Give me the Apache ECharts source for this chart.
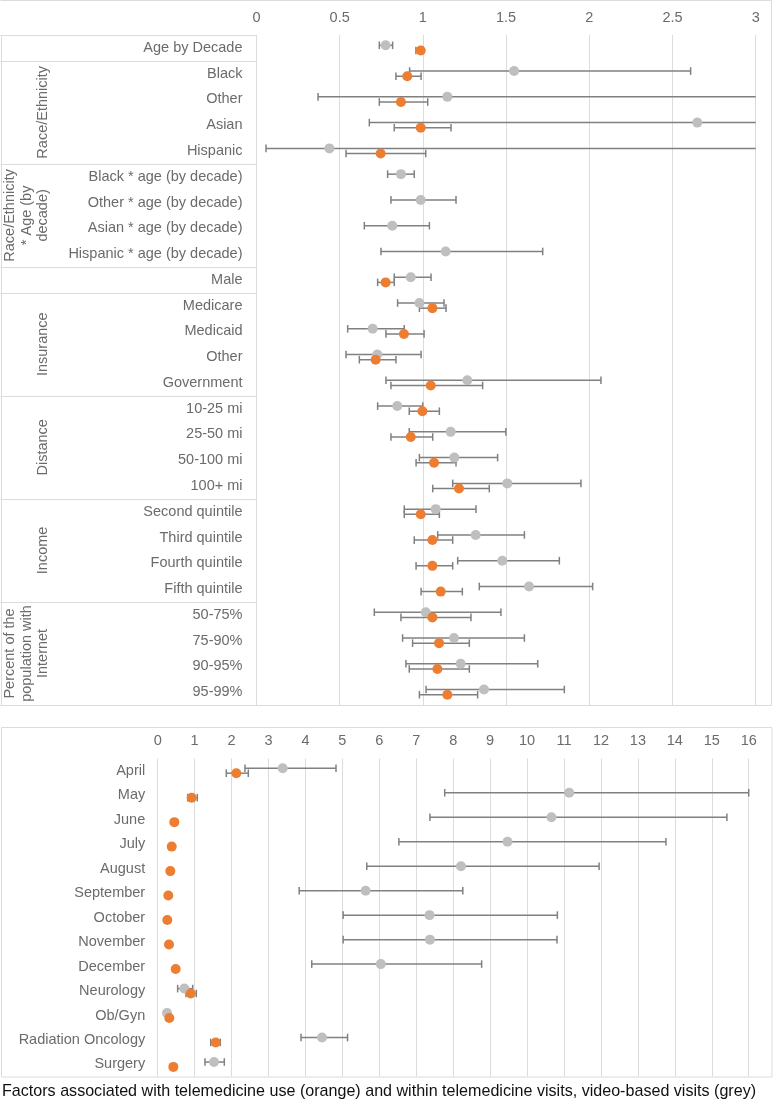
<!DOCTYPE html>
<html><head><meta charset="utf-8">
<script src="https://cdn.jsdelivr.net/npm/echarts@6/dist/echarts.min.js"></script>
<style>html,body{margin:0;padding:0;background:#fff}#c{width:773px;height:1103px}</style>
</head><body><div id="c"></div>
<script>
// ---------- TOP PANEL DATA ----------
const topCategories = ['Age by Decade','Black','Other','Asian','Hispanic',
  'Black * age (by decade)','Other * age (by decade)','Asian * age (by decade)','Hispanic * age (by decade)',
  'Male','Medicare','Medicaid','Other','Government','10-25 mi','25-50 mi','50-100 mi','100+ mi',
  'Second quintile','Third quintile','Fourth quintile','Fifth quintile','50-75%','75-90%','90-95%','95-99%'];
const topGreyOR = [0.776,1.548,1.147,2.649,0.438,0.868,0.987,0.816,1.137,0.927,0.979,0.698,0.726,1.267,0.846,1.167,1.189,1.507,1.077,1.317,1.477,1.638,1.017,1.187,1.227,1.367];
const topGreyLo = [0.738,0.920,0.370,0.678,0.057,0.788,0.808,0.648,0.748,0.828,0.848,0.548,0.538,0.778,0.728,0.918,0.979,1.179,0.888,1.089,1.209,1.339,0.708,0.878,0.898,1.019];
const topGreyHi = [0.818,2.609,3.55,10.3,3.37,0.948,1.199,1.039,1.720,1.049,1.127,0.888,0.989,2.070,0.999,1.499,1.449,1.950,1.319,1.610,1.820,2.020,1.469,1.610,1.690,1.850];
const topOrangeOR = [0.987,0.906,0.868,0.987,0.746,null,null,null,null,0.776,1.057,0.886,0.716,1.047,0.997,0.927,1.067,1.217,0.987,1.057,1.057,1.107,1.057,1.097,1.087,1.147];
const topOrangeLo = [0.958,0.838,0.738,0.828,0.538,null,null,null,null,0.728,0.979,0.778,0.618,0.808,0.918,0.808,0.959,1.059,0.888,0.948,0.959,0.989,0.868,0.938,0.918,0.979];
const topOrangeHi = [1.002,0.989,1.029,1.169,1.017,null,null,null,null,0.828,1.139,1.007,0.838,1.359,1.099,1.059,1.199,1.399,1.099,1.179,1.179,1.237,1.289,1.279,1.279,1.329];
const topGroups = [
  {name:'Race/Ethnicity', from:1, to:4},
  {name:'Race/Ethnicity\n* Age (by\ndecade)', from:5, to:8},
  {name:'Insurance', from:10, to:13},
  {name:'Distance', from:14, to:17},
  {name:'Income', from:18, to:21},
  {name:'Percent of the\npopulation with\nInternet', from:22, to:25}
];
const topBoundaries = [-0.5, 0.5, 4.5, 8.5, 9.5, 13.5, 17.5, 21.5, 25.5];

// ---------- BOTTOM PANEL DATA ----------
const botCategories = ['April','May','June','July','August','September','October','November','December','Neurology','Ob/Gyn','Radiation Oncology','Surgery'];
const botGreyOR = [3.384,11.14,10.66,9.47,8.21,5.63,7.36,7.37,6.04,0.72,0.252,4.448,1.524];
const botGreyLo = [2.363,7.77,7.37,6.53,5.66,3.83,5.02,5.02,4.17,0.54,null,3.88,1.28];
const botGreyHi = [4.827,16.0,15.41,13.76,11.95,8.26,10.82,10.81,8.77,0.947,null,5.14,1.803];
const botOrangeOR = [2.128,0.92,0.45,0.379,0.341,0.287,0.26,0.306,0.487,0.893,0.314,1.57,0.423];
const botOrangeLo = [1.857,0.812,null,null,null,null,null,null,null,0.766,null,1.435,null];
const botOrangeHi = [2.453,1.072,null,null,null,null,null,null,null,1.045,null,1.695,null];

const captionText = 'Factors associated with telemedicine use (orange) and within telemedicine visits, video-based visits (grey)';

// ---------- STYLE ----------
const FONT = 'Liberation Sans, Arial, sans-serif';
const TXT = '#6b6b6b';
const GRID = '#dcdcdc';
const GREY = '#bfbfbf';
const ORANGE = '#ed7d31';
const BAR = '#808080';
const OFF = 0.1;

function errRender(params, api) {
  const lo = api.value(0), hi = api.value(1), y = api.value(2);
  const cs = params.coordSys;
  const p1 = api.coord([lo, y]), p2 = api.coord([hi, y]);
  const left = cs.x, right = cs.x + cs.width;
  const x1 = Math.max(p1[0], left), x2 = Math.min(p2[0], right);
  const yy = p1[1];
  const st = {stroke: BAR, lineWidth: 1.5};
  const ch = [{type:'line', shape:{x1:x1, y1:yy, x2:x2, y2:yy}, style:st}];
  if (p1[0] >= left - 0.5) ch.push({type:'line', shape:{x1:p1[0], y1:yy-3.8, x2:p1[0], y2:yy+3.8}, style:st});
  if (p2[0] <= right + 0.5) ch.push({type:'line', shape:{x1:p2[0], y1:yy-3.8, x2:p2[0], y2:yy+3.8}, style:st});
  return {type:'group', children: ch};
}
function errData(lo, hi, off) {
  const d = [];
  lo.forEach((v, i) => { if (v != null && hi[i] != null) d.push([v, hi[i], i + off]); });
  return d;
}
function ptData(or, off) {
  const d = [];
  or.forEach((v, i) => { if (v != null) d.push([v, i + off]); });
  return d;
}
function errSeries(lo, hi, off, xi, yi) {
  return {type:'custom', coordinateSystem:'cartesian2d', xAxisIndex:xi, yAxisIndex:yi,
    renderItem: errRender, encode:{x:[0,1], y:2}, data: errData(lo, hi, off), silent:true, animation:false};
}
function ptSeries(or, off, color, xi, yi) {
  return {type:'scatter', xAxisIndex:xi, yAxisIndex:yi, data: ptData(or, off), symbol:'circle', symbolSize:10,
    itemStyle:{color: color, opacity:1}, silent:true, animation:false, z:3};
}

const axisLbl = {color: TXT, fontSize: 14.5, fontFamily: FONT};

const option = {
  animation: false,
  backgroundColor: '#fff',
  grid: [
    {left: 256.5, right: 17.3, top: 35, bottom: 398},
    {left: 157.7, right: 24.3, top: 758.5, bottom: 26.3}
  ],
  xAxis: [
    {gridIndex:0, type:'value', position:'top', min:0, max:3, interval:0.5,
      axisLine:{show:false}, axisTick:{show:false}, axisLabel:Object.assign({margin:10}, axisLbl),
      splitLine:{show:true, lineStyle:{color:GRID, width:1}}},
    {gridIndex:1, type:'value', position:'top', min:0, max:16, interval:1,
      axisLine:{show:false}, axisTick:{show:false}, axisLabel:Object.assign({margin:10}, axisLbl),
      splitLine:{show:true, lineStyle:{color:GRID, width:1}}}
  ],
  yAxis: [
    {gridIndex:0, type:'category', data: topCategories, inverse:true, position:'left',
      axisLine:{show:false}, axisTick:{show:false}, splitLine:{show:false},
      axisLabel:Object.assign({margin:14, interval:0}, axisLbl)},
    {gridIndex:0, type:'value', min:-0.5, max:25.5, inverse:true, show:false},
    {gridIndex:1, type:'category', data: botCategories, inverse:true, position:'left',
      axisLine:{show:false}, axisTick:{show:false}, splitLine:{show:false},
      axisLabel:Object.assign({margin:12.5, interval:0}, axisLbl)},
    {gridIndex:1, type:'value', min:-0.5, max:12.5, inverse:true, show:false}
  ],
  series: [
    errSeries(topGreyLo, topGreyHi, -OFF, 0, 1),
    ptSeries(topGreyOR, -OFF, GREY, 0, 1),
    errSeries(topOrangeLo, topOrangeHi, OFF, 0, 1),
    ptSeries(topOrangeOR, OFF, ORANGE, 0, 1),
    errSeries(botGreyLo, botGreyHi, -OFF, 1, 3),
    ptSeries(botGreyOR, -OFF, GREY, 1, 3),
    errSeries(botOrangeLo, botOrangeHi, OFF, 1, 3),
    ptSeries(botOrangeOR, OFF, ORANGE, 1, 3)
  ]
};

const chart = echarts.init(document.getElementById('c'), null, {renderer:'canvas'});
chart.setOption(option);

// ---------- decorations (table lines, group labels, frames, caption) ----------
const yPix = v => chart.convertToPixel({yAxisIndex:1}, v);
const xLeft = chart.convertToPixel({xAxisIndex:0}, 0);
const topY = yPix(-0.5), botY = yPix(25.5);
const lineStyle = {stroke: GRID, lineWidth: 1};
const g = [];
topBoundaries.forEach(b => {
  const y = Math.round(yPix(b)) + 0.5;
  g.push({type:'line', shape:{x1:0.5, y1:y, x2:xLeft, y2:y}, style:lineStyle, z:10});
});
g.push({type:'line', shape:{x1:1.5, y1:topY, x2:1.5, y2:botY}, style:lineStyle, z:10});
g.push({type:'line', shape:{x1:xLeft, y1:topY, x2:xLeft, y2:botY}, style:lineStyle, z:10});
g.push({type:'line', shape:{x1:0.5, y1:Math.round(botY)+0.5, x2:771.5, y2:Math.round(botY)+0.5}, style:lineStyle, z:10});
g.push({type:'line', shape:{x1:0.5, y1:0.5, x2:771.5, y2:0.5}, style:lineStyle, z:10});
g.push({type:'line', shape:{x1:771.5, y1:0.5, x2:771.5, y2:Math.round(botY)+0.5}, style:lineStyle, z:10});
topGroups.forEach(gr => {
  const yc = (yPix(gr.from - 0.5) + yPix(gr.to + 0.5)) / 2;
  const n = gr.name.split('\n').length;
  const lh = 16.5;
  const xc = 43 - (n - 1) * lh / 2;
  g.push({type:'text', x:xc, y:yc, rotation:Math.PI/2, z:10,
    style:{text:gr.name, fill:TXT, font:'14.5px ' + FONT, align:'center', verticalAlign:'middle', lineHeight:lh}});
});
// bottom panel frame
g.push({type:'rect', shape:{x:1.5, y:727.5, width:770.5, height:349.5}, style:{fill:'none', stroke:GRID, lineWidth:1}, z:10});
// caption
g.push({type:'text', x:2, y:1092, z:10,
  style:{text:captionText, fill:'#111', font:'16.1px ' + FONT, align:'left', verticalAlign:'middle'}});
chart.setOption({graphic: {elements: g}});
</script>
</body></html>
